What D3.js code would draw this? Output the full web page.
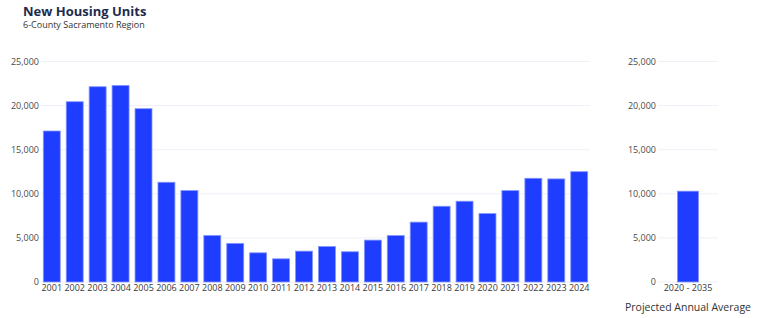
<!DOCTYPE html>
<html>
<head>
<meta charset="utf-8">
<script src="https://cdn.jsdelivr.net/npm/d3@7"></script>
<style>
  body { margin: 0; background: #fff; }
  text { font-family: "Segoe UI", "Open Sans", "Noto Sans", sans-serif; }
</style>
</head>
<body>
<div id="chart"></div>
<script>
const years = ["2001", "2002", "2003", "2004", "2005", "2006", "2007", "2008", "2009", "2010", "2011", "2012",
  "2013", "2014", "2015", "2016", "2017", "2018", "2019", "2020", "2021", "2022", "2023", "2024"]
const units = [17120, 20440, 22140, 22290, 19650, 11310, 10370, 5280, 4380, 3310, 2630, 3500,
  4030, 3430, 4750, 5270, 6790, 8590, 9160, 7760, 10360, 11760, 11690, 12510]
const projLabels = ["2020 - 2035"]
const projUnits = [10300]
const yTicks = [0, 5000, 10000, 15000, 20000, 25000]

const W = 765, H = 318
const barFill = "#1f3dff", barStroke = "#8796ff"
const fmt = d3.format(",")

const svg = d3.select("#chart").append("svg")
  .attr("width", W)
  .attr("height", H)

svg.append("text")
  .attr("x", 23).attr("y", 15.5)
  .attr("font-size", 13)
  .attr("font-weight", 700)
  .attr("fill", "#1d2b4f")
  .text("New Housing Units")

svg.append("text")
  .attr("x", 23).attr("y", 28)
  .attr("font-size", 9)
  .attr("fill", "#333")
  .text("6-County Sacramento Region")

const y = d3.scaleLinear().domain([0, 25000]).range([282, 61.5])

// draws one panel: gridlines, y labels, bars, x labels
function panel(cats, vals, x, labelX) {
  const g = svg.append("g")
  const [x0, x1] = x.range()

  g.selectAll(".grid").data(yTicks).join("line")
    .attr("x1", x0).attr("x2", x1)
    .attr("y1", d => y(d)).attr("y2", d => y(d))
    .attr("stroke", "#edf0f7")
    .attr("stroke-width", 1)

  g.selectAll(".ylab").data(yTicks).join("text")
    .attr("x", labelX)
    .attr("y", d => y(d))
    .attr("dy", "0.35em")
    .attr("text-anchor", "end")
    .attr("font-size", 9)
    .attr("fill", "#4a4a4a")
    .text(d => fmt(d))

  g.selectAll("rect").data(vals).join("rect")
    .attr("x", (d, i) => x(cats[i]))
    .attr("width", x.bandwidth())
    .attr("y", d => y(d))
    .attr("height", d => y(0) - y(d))
    .attr("fill", barFill)
    .attr("stroke", barStroke)
    .attr("stroke-width", 0.8)

  g.selectAll(".xlab").data(cats).join("text")
    .attr("x", d => x(d) + x.bandwidth() / 2)
    .attr("y", 291)
    .attr("text-anchor", "middle")
    .attr("font-size", 9)
    .attr("fill", "#3a3a3a")
    .text(d => d)
}

const x = d3.scaleBand().domain(years).range([41, 590]).paddingInner(0.26).paddingOuter(0.1)
panel(years, units, x, 39)

const xp = d3.scaleBand().domain(projLabels).range([658, 718]).padding(0.48)
panel(projLabels, projUnits, xp, 656)

svg.append("text")
  .attr("x", 688).attr("y", 311)
  .attr("text-anchor", "middle")
  .attr("font-size", 10.5)
  .attr("fill", "#333")
  .text("Projected Annual Average")
</script>
</body>
</html>
